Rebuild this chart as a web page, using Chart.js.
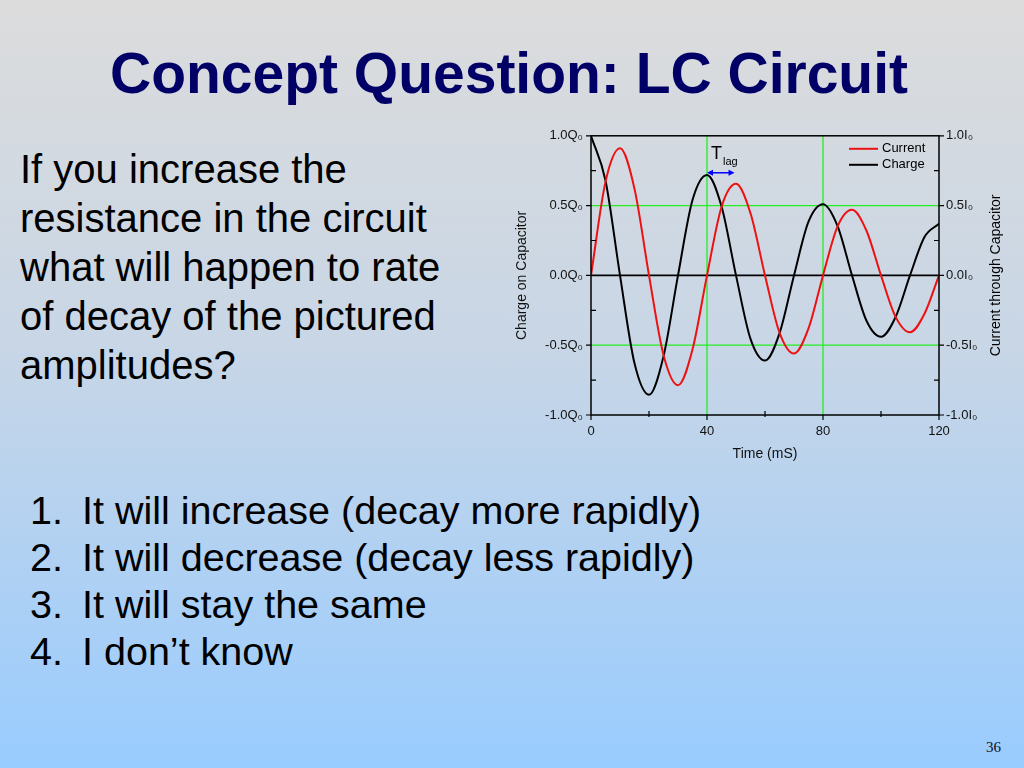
<!DOCTYPE html>
<html>
<head>
<meta charset="utf-8">
<script src="https://cdn.jsdelivr.net/npm/chart.js@4.4.1/dist/chart.umd.min.js"></script>
<style>
  body { margin: 0; }
  #slide {
    position: relative; width: 1024px; height: 768px; overflow: hidden;
    background: linear-gradient(#dcdcdc 0%, #c8d6e6 45%, #99ccff 100%);
    font-family: Arial, "Liberation Sans", sans-serif;
  }
  #title {
    position: absolute; left: 0; top: 45px; width: 1018px; text-align: center;
    font-size: 57px; line-height: 57px; font-weight: bold; color: #000066;
  }
  #question {
    position: absolute; left: 20px; top: 145px; font-size: 40px; line-height: 49px; color: #000;
  }
  #answers {
    position: absolute; left: 30px; top: 487px; font-size: 39.5px; line-height: 47px; color: #000;
  }
  #answers div span { display: inline-block; width: 52px; }
  #page {
    position: absolute; left: 986px; top: 739px; font-family: "Liberation Serif", serif;
    font-size: 15px; color: #112;
  }
  #chartBox { position: absolute; left: 500px; top: 120px; width: 520px; height: 350px; }
</style>
</head>
<body>
<div id="slide">
  <div id="title">Concept Question: LC Circuit</div>
  <div id="question">If you increase the<br>resistance in the circuit<br>what will happen to rate<br>of decay of the pictured<br>amplitudes?</div>
  <div id="answers">
    <div><span>1.</span>It will increase (decay more rapidly)</div>
    <div><span>2.</span>It will decrease (decay less rapidly)</div>
    <div><span>3.</span>It will stay the same</div>
    <div><span>4.</span>I don’t know</div>
  </div>
  <div id="page">36</div>
  <div id="chartBox"><canvas id="lcChart"></canvas></div>
</div>
<script>
// time samples (ms) and values
const timeMs = [0, 5, 10, 15, 20, 25, 30, 35, 40, 45, 50, 55, 60, 65, 70, 75, 80, 85, 90, 95, 100, 105, 110, 115, 120];
const chargeQ = [1.0, 0.68, 0, -0.63, -0.855, -0.58, 0, 0.54, 0.72, 0.495, 0, -0.455, -0.61, -0.415, 0, 0.385, 0.51, 0.355, 0, -0.325, -0.44, -0.30, 0, 0.275, 0.37];
const currentI = [0, 0.67, 0.91, 0.62, 0, -0.57, -0.787, -0.53, 0, 0.49, 0.656, 0.445, 0, -0.41, -0.56, -0.38, 0, 0.35, 0.47, 0.32, 0, -0.295, -0.407, -0.275, 0];

const timeTicks = [0, 40, 80, 120];
const levelTicks = [-1, -0.5, 0, 0.5, 1];
const chargeTickLabels = ["-1.0Q₀", "-0.5Q₀", "0.0Q₀", "0.5Q₀", "1.0Q₀"];
const currentTickLabels = ["-1.0I₀", "-0.5I₀", "0.0I₀", "0.5I₀", "1.0I₀"];
const greenTimes = [40, 80];
const greenLevels = [-0.5, 0.5];

// T_lag marker: from the charge peak to the current peak
const lagFrom = 40, lagTo = 49.5, lagLevel = 0.735;

const green = "#22ee22";
const tickFont = { family: "Arial, 'Liberation Sans'", size: 13 };

function levelLabel(labels) {
  return function (v) {
    let i = levelTicks.indexOf(Math.round(v * 100) / 100);
    return i >= 0 ? labels[i] : "";
  };
}

const slidePlugin = {
  id: "slideExtras",
  beforeDatasetsDraw(chart) {
    let c = chart.ctx, a = chart.chartArea;
    let x = chart.scales.x, y = chart.scales.y;
    c.save();
    c.strokeStyle = green;
    c.lineWidth = 1.3;
    c.beginPath();
    greenTimes.forEach(function (t) {
      let px = x.getPixelForValue(t);
      c.moveTo(px, a.top); c.lineTo(px, a.bottom);
    });
    greenLevels.forEach(function (v) {
      let py = y.getPixelForValue(v);
      c.moveTo(a.left, py); c.lineTo(a.right, py);
    });
    c.stroke();
    c.strokeStyle = "#000";
    c.lineWidth = 1.6;
    c.beginPath();
    let zy = y.getPixelForValue(0);
    c.moveTo(a.left, zy); c.lineTo(a.right, zy);
    c.stroke();
    c.restore();
  },
  afterDraw(chart) {
    let c = chart.ctx, a = chart.chartArea;
    let x = chart.scales.x, y = chart.scales.y;
    c.save();
    c.strokeStyle = "#000";
    c.lineWidth = 1.5;
    c.strokeRect(a.left, a.top, a.right - a.left, a.bottom - a.top);

    // tick marks: major outward, minor inward
    c.lineWidth = 1.2;
    c.beginPath();
    for (let v = -1; v <= 1.001; v += 0.25) {
      let py = y.getPixelForValue(v);
      let major = levelTicks.includes(Math.round(v * 100) / 100);
      if (major) {
        c.moveTo(a.left - 5, py); c.lineTo(a.left, py);
        c.moveTo(a.right, py); c.lineTo(a.right + 5, py);
      } else {
        c.moveTo(a.left, py); c.lineTo(a.left + 5, py);
        c.moveTo(a.right - 5, py); c.lineTo(a.right, py);
      }
    }
    for (let v = 0; v <= 120; v += 20) {
      let px = x.getPixelForValue(v);
      if (timeTicks.includes(v)) {
        c.moveTo(px, a.bottom); c.lineTo(px, a.bottom + 5);
      } else {
        c.moveTo(px, a.bottom - 4); c.lineTo(px, a.bottom + 2);
      }
    }
    c.stroke();

    // legend
    c.font = "13px Arial, 'Liberation Sans'";
    c.textBaseline = "middle";
    chart.data.datasets.forEach(function (ds, i) {
      let ly = a.top + 13 + i * 16;
      c.strokeStyle = ds.borderColor;
      c.lineWidth = 2;
      c.beginPath();
      c.moveTo(a.right - 90, ly); c.lineTo(a.right - 61, ly);
      c.stroke();
      c.fillStyle = "#000";
      c.fillText(ds.label, a.right - 57, ly);
    });

    // T_lag arrow
    let x0 = x.getPixelForValue(lagFrom), x1 = x.getPixelForValue(lagTo), ay = y.getPixelForValue(lagLevel);
    c.strokeStyle = "#0000ff";
    c.fillStyle = "#0000ff";
    c.lineWidth = 1.5;
    c.beginPath();
    c.moveTo(x0 + 3, ay); c.lineTo(x1 - 3, ay);
    c.stroke();
    c.beginPath();
    c.moveTo(x0, ay); c.lineTo(x0 + 6, ay - 3); c.lineTo(x0 + 6, ay + 3); c.closePath();
    c.moveTo(x1, ay); c.lineTo(x1 - 6, ay - 3); c.lineTo(x1 - 6, ay + 3); c.closePath();
    c.fill();
    c.fillStyle = "#000";
    c.textBaseline = "alphabetic";
    c.font = "18px Arial, 'Liberation Sans'";
    c.fillText("T", x0 + 4, ay - 14);
    c.font = "11px Arial, 'Liberation Sans'";
    c.fillText("lag", x0 + 16, ay - 8);

    // right axis title, reading bottom to top
    c.font = "14px Arial, 'Liberation Sans'";
    c.textAlign = "center";
    c.textBaseline = "middle";
    c.translate(a.right + 57, (a.top + a.bottom) / 2);
    c.rotate(-Math.PI / 2);
    c.fillText("Current through Capacitor", 0, 0);
    c.restore();
  }
};

let lcCtx = document.getElementById("lcChart").getContext("2d");
let lcChart = new Chart(lcCtx, {
  type: "line",
  data: {
    datasets: [
      {
        label: "Current",
        borderColor: "#ee1111",
        backgroundColor: "#ee1111",
        data: timeMs.map((t, i) => ({ x: t, y: currentI[i] })),
        yAxisID: "y2",
      },
      {
        label: "Charge",
        borderColor: "#000000",
        backgroundColor: "#000000",
        data: timeMs.map((t, i) => ({ x: t, y: chargeQ[i] })),
        yAxisID: "y",
      },
    ],
  },
  options: {
    responsive: true,
    maintainAspectRatio: false,
    animation: false,
    layout: { padding: { top: 14 } },
    elements: {
      line: { borderWidth: 2, cubicInterpolationMode: "monotone" },
      point: { radius: 0 },
    },
    plugins: { legend: { display: false }, tooltip: { enabled: false } },
    scales: {
      x: {
        type: "linear", min: 0, max: 120,
        ticks: {
          stepSize: 20, autoSkip: false, padding: 9, color: "#111", font: tickFont,
          callback: (v) => (timeTicks.includes(v) ? String(v) : ""),
        },
        grid: { display: false, drawTicks: false },
        border: { display: false },
        title: { display: true, text: "Time (mS)", color: "#111", font: { family: tickFont.family, size: 14 }, padding: { top: 2, bottom: 7 } },
        afterFit: (s) => { s.height = 55; },
      },
      y: {
        position: "left", min: -1, max: 1,
        ticks: { stepSize: 0.25, autoSkip: false, padding: 8, color: "#111", font: tickFont, callback: levelLabel(chargeTickLabels) },
        grid: { display: false, drawTicks: false },
        border: { display: false },
        title: { display: true, text: "Charge on Capacitor", color: "#111", font: { family: tickFont.family, size: 14 }, padding: { top: 14 } },
        afterFit: (s) => { s.width = 91; },
      },
      y2: {
        position: "right", min: -1, max: 1,
        ticks: { stepSize: 0.25, autoSkip: false, padding: 7, color: "#111", font: tickFont, callback: levelLabel(currentTickLabels) },
        grid: { display: false, drawTicks: false },
        border: { display: false },
        afterFit: (s) => { s.width = 81; },
      },
    },
  },
  plugins: [slidePlugin],
});
</script>
</body>
</html>
